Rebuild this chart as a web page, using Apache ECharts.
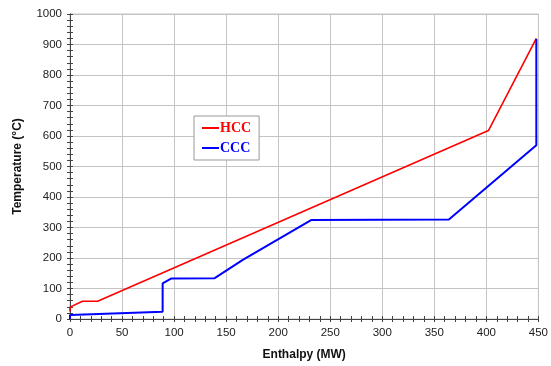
<!DOCTYPE html>
<html>
<head>
<meta charset="utf-8">
<script src="https://cdn.jsdelivr.net/npm/echarts@6/dist/echarts.min.js"></script>
<style>
  html, body { margin: 0; padding: 0; background: #fff; }
  #chart { width: 551px; height: 366px; }
</style>
</head>
<body>
<div id="chart"></div>
<script>
// hot composite curve [enthalpy MW, temperature C]
const hccPoints = [[0, 25], [0, 39], [12, 58], [26.5, 58], [402, 618], [448, 920]];
// cold composite curve
const cccPoints = [[0, 0], [0, 13], [89, 24], [89, 117], [97.5, 133], [139, 134], [166, 194], [232, 325], [364, 326], [448, 570], [448, 918]];
const seriesNames = ['HCC', 'CCC'];
const seriesColors = ['#ff0000', '#0000ff'];

const chart = echarts.init(document.getElementById('chart'));

const axisFont = { fontFamily: 'Liberation Sans, Arial, sans-serif', fontSize: 11.5, color: '#222' };
const gridLine = { show: true, lineStyle: { color: '#c4c4c4', width: 1 } };

const xBase = {
  type: 'value', min: 0, max: 450, interval: 50,
  axisLine: { onZero: false, lineStyle: { color: '#444' } },
  minorTick: { show: true, splitNumber: 5, length: 3, lineStyle: { color: '#444' } },
  axisTick: { length: 3, lineStyle: { color: '#444' } },
};
const yBase = {
  type: 'value', min: 0, max: 1000, interval: 100,
  axisLine: { show: true, onZero: false, lineStyle: { color: '#444' } },
  minorTick: { show: true, splitNumber: 5, length: 3, lineStyle: { color: '#444' } },
  axisTick: { show: true, length: 3, lineStyle: { color: '#444' } },
};

chart.setOption({
  animation: false,
  grid: { left: 70, right: 12, top: 14, bottom: 46, show: true, borderColor: '#c4c4c4', borderWidth: 1 },
  legend: {
    orient: 'vertical',
    left: 194, top: 116,
    padding: [5, 8, 5, 8],
    itemGap: 6,
    itemWidth: 17, itemHeight: 10,
    backgroundColor: '#fff',
    borderColor: '#999', borderWidth: 1,
    data: seriesNames.map((n, i) => ({
      name: n, icon: 'path://M0,4 L17,4 L17,6 L0,6 Z',
      textStyle: { color: seriesColors[i] },
    })),
    textStyle: { fontFamily: 'Liberation Serif, Times New Roman, serif', fontWeight: 'bold', fontSize: 14, padding: [0, 0, 0, -4] },
  },
  xAxis: [
    Object.assign({}, xBase, {
      name: 'Enthalpy (MW)', nameLocation: 'middle', nameGap: 30,
      nameTextStyle: { fontFamily: 'Liberation Sans, Arial, sans-serif', fontWeight: 'bold', fontSize: 12, color: '#111' },
      axisLabel: Object.assign({ margin: 8 }, axisFont),
      splitLine: gridLine,
    }),
    Object.assign({}, xBase, {
      position: 'bottom', gridIndex: 0,
      axisLabel: { show: false }, splitLine: { show: false },
      axisTick: Object.assign({}, xBase.axisTick, { inside: true }),
      minorTick: Object.assign({}, xBase.minorTick, { inside: true }),
    }),
  ],
  yAxis: [
    Object.assign({}, yBase, {
      name: 'Temperature (\u00B0C)', nameLocation: 'middle', nameGap: 46,
      nameTextStyle: { fontFamily: 'Liberation Sans, Arial, sans-serif', fontWeight: 'bold', fontSize: 12, color: '#111' },
      axisLabel: Object.assign({ margin: 8, formatter: (v) => String(v) }, axisFont),
      splitLine: gridLine,
    }),
    Object.assign({}, yBase, {
      position: 'left', gridIndex: 0,
      axisLabel: { show: false }, splitLine: { show: false },
      axisTick: Object.assign({}, yBase.axisTick, { inside: true }),
      minorTick: Object.assign({}, yBase.minorTick, { inside: true }),
    }),
  ],
  series: [
    { name: seriesNames[0], type: 'line', data: hccPoints, showSymbol: false, symbol: 'none',
      lineStyle: { color: seriesColors[0], width: 1.6 }, itemStyle: { color: seriesColors[0] } },
    { name: seriesNames[1], type: 'line', data: cccPoints, showSymbol: false, symbol: 'none',
      lineStyle: { color: seriesColors[1], width: 2 }, itemStyle: { color: seriesColors[1] } },
  ],
});
</script>
</body>
</html>
